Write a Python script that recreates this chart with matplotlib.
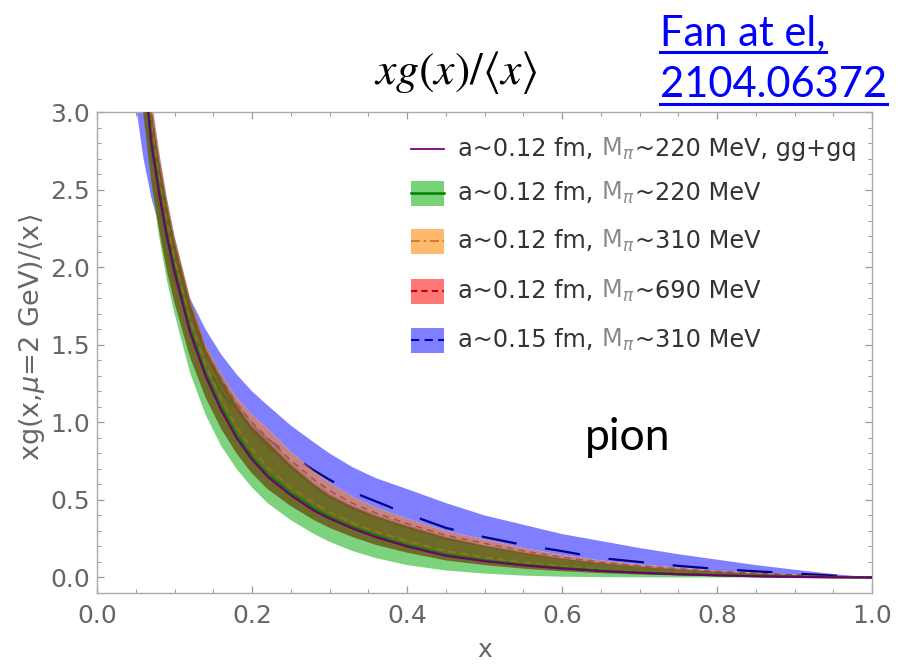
import matplotlib
matplotlib.use("Agg")
import matplotlib.pyplot as plt
from matplotlib.lines import Line2D
from matplotlib.patches import Rectangle
from matplotlib.offsetbox import AnnotationBbox, DrawingArea, HPacker, TextArea
from matplotlib.ticker import MultipleLocator, FormatStrFormatter

plt.rcParams["font.family"] = ["DejaVu Sans"]
plt.rcParams["mathtext.fontset"] = "dejavusans"

# -------------------------
# data
# -------------------------
x = [0.04, 0.05, 0.06, 0.07, 0.08, 0.09, 0.10, 0.12, 0.14, 0.16, 0.18, 0.20,
     0.22, 0.25, 0.28, 0.30, 0.33, 0.36, 0.40, 0.45, 0.50, 0.55, 0.60, 0.65,
     0.70, 0.75, 0.80, 0.85, 0.90, 0.95, 1.00]

# a~0.12 fm, M_pi~220 MeV, gg+gq (purple line)
gg_gq = [5.2, 4.1, 3.3, 2.8, 2.48, 2.2, 1.97, 1.58, 1.30, 1.08, 0.90, 0.76,
         0.65, 0.53, 0.43, 0.38, 0.315, 0.26, 0.20, 0.14, 0.105, 0.078, 0.058, 0.042,
         0.030, 0.021, 0.014, 0.008, 0.004, 0.0015, 0.0]

# a~0.12 fm, M_pi~220 MeV (green)
m220_mid = [5.25, 4.15, 3.34, 2.83, 2.51, 2.22, 1.99, 1.60, 1.32, 1.10, 0.92, 0.775,
            0.665, 0.545, 0.445, 0.39, 0.325, 0.27, 0.208, 0.147, 0.11, 0.082, 0.061, 0.044,
            0.032, 0.022, 0.015, 0.009, 0.0045, 0.0017, 0.0]
m220_lo = [4.9, 3.7, 3.0, 2.55, 2.2, 1.92, 1.7, 1.32, 1.05, 0.85, 0.70, 0.58,
           0.48, 0.37, 0.28, 0.23, 0.17, 0.125, 0.08, 0.045, 0.025, 0.012, 0.005, 0.002,
           0.001, 0.0, 0.0, 0.0, 0.0, 0.0, 0.0]
m220_hi = [6.0, 4.7, 3.8, 3.05, 2.72, 2.44, 2.2, 1.80, 1.50, 1.31, 1.14, 1.00,
           0.90, 0.745, 0.615, 0.545, 0.465, 0.405, 0.34, 0.265, 0.21, 0.165, 0.125, 0.095,
           0.072, 0.053, 0.038, 0.025, 0.015, 0.006, 0.0]

# a~0.12 fm, M_pi~310 MeV (orange)
m310_mid = [5.4, 4.3, 3.45, 2.93, 2.58, 2.29, 2.05, 1.66, 1.37, 1.15, 0.97, 0.83,
            0.71, 0.58, 0.48, 0.42, 0.35, 0.295, 0.235, 0.17, 0.13, 0.097, 0.072, 0.053,
            0.038, 0.027, 0.018, 0.011, 0.006, 0.002, 0.0]
m310_lo = [4.6, 3.65, 2.98, 2.55, 2.24, 1.98, 1.77, 1.42, 1.16, 0.96, 0.80, 0.67,
           0.57, 0.46, 0.37, 0.32, 0.26, 0.21, 0.16, 0.11, 0.08, 0.057, 0.04, 0.028,
           0.019, 0.013, 0.008, 0.005, 0.002, 0.001, 0.0]
m310_hi = [5.9, 4.6, 3.72, 3.0, 2.68, 2.4, 2.16, 1.77, 1.47, 1.28, 1.11, 0.97,
           0.875, 0.725, 0.60, 0.53, 0.455, 0.395, 0.33, 0.258, 0.204, 0.16, 0.121, 0.092,
           0.069, 0.051, 0.036, 0.024, 0.014, 0.006, 0.0]

# a~0.12 fm, M_pi~690 MeV (red)
m690_mid = [5.8, 4.55, 3.68, 3.0, 2.66, 2.38, 2.14, 1.75, 1.46, 1.28, 1.12, 1.0,
            0.90, 0.755, 0.63, 0.56, 0.478, 0.415, 0.348, 0.272, 0.22, 0.171, 0.13, 0.098,
            0.075, 0.055, 0.039, 0.026, 0.015, 0.0065, 0.0]
m690_lo = [5.6, 4.4, 3.55, 2.9, 2.58, 2.3, 2.08, 1.70, 1.42, 1.24, 1.07, 0.94,
           0.84, 0.70, 0.58, 0.51, 0.435, 0.38, 0.315, 0.245, 0.195, 0.152, 0.115, 0.087,
           0.066, 0.048, 0.034, 0.022, 0.013, 0.005, 0.0]
m690_hi = [6.0, 4.7, 3.8, 3.1, 2.75, 2.45, 2.2, 1.80, 1.50, 1.31, 1.16, 1.05,
           0.96, 0.81, 0.685, 0.61, 0.52, 0.45, 0.38, 0.30, 0.245, 0.19, 0.145, 0.11,
           0.085, 0.063, 0.045, 0.03, 0.018, 0.008, 0.0]

# a~0.15 fm, M_pi~310 MeV (blue)
a15_mid = [5.0, 3.9, 3.2, 2.75, 2.4, 2.15, 1.93, 1.6, 1.38, 1.2, 1.07, 0.98,
           0.89, 0.79, 0.69, 0.63, 0.55, 0.49, 0.41, 0.32, 0.26, 0.21, 0.17, 0.125,
           0.10, 0.075, 0.055, 0.04, 0.025, 0.012, 0.0]
a15_lo = [4.0, 3.05, 2.7, 2.45, 2.27, 2.05, 1.88, 1.62, 1.50, 1.31, 1.16, 1.05,
          0.96, 0.81, 0.685, 0.61, 0.52, 0.45, 0.38, 0.30, 0.245, 0.19, 0.145, 0.11,
          0.085, 0.063, 0.045, 0.03, 0.018, 0.008, 0.0]
a15_hi = [5.6, 4.4, 3.5, 2.95, 2.6, 2.3, 2.1, 1.80, 1.60, 1.44, 1.31, 1.20,
          1.11, 0.98, 0.87, 0.80, 0.71, 0.64, 0.57, 0.48, 0.40, 0.34, 0.28, 0.235,
          0.19, 0.15, 0.115, 0.08, 0.05, 0.022, 0.0]

# legend entries
leg_a = ["0.12", "0.12", "0.12", "0.12", "0.15"]
leg_mass = ["220", "220", "310", "690", "310"]
leg_extra = [", gg+gq", "", "", "", ""]

W, H = 906, 664
fig = plt.figure(figsize=(W / 100, H / 100), dpi=100)
ax = fig.add_axes([97 / W, 1 - 593 / H, 775 / W, 481 / H])

# -------------------------
# bands and central lines
# -------------------------
ax.fill_between(x, a15_lo, a15_hi, color=(0, 0, 1), alpha=0.5, lw=0, zorder=1)
ax.plot(x, a15_mid, color="#00008b", lw=1.6, dashes=(16, 13), zorder=1.5)
ax.fill_between(x, m220_lo, m220_hi, color=(92 / 255, 201 / 255, 92 / 255),
                alpha=0.8, lw=0, zorder=2)
# red central line sits under its own band, as in the original
ax.plot(x, m690_mid, color="#b00000", lw=1.2, dashes=(4, 3), zorder=2.4)
ax.fill_between(x, m690_lo, m690_hi, color=(186 / 255, 99 / 255, 99 / 255),
                alpha=0.8, lw=0, zorder=2.5)
ax.fill_between(x, m310_lo, m310_hi, color=(104 / 255, 82 / 255, 19 / 255),
                alpha=0.8, lw=0, zorder=3)
ax.plot(x, m310_mid, color="#8a7a18", lw=1.4, dashes=(4, 2.5), zorder=4)
ax.plot(x, m220_mid, color="#0a7d0a", lw=1.8, zorder=4.5)
ax.plot(x, gg_gq, color="#700070", lw=1.5, zorder=5)

# -------------------------
# axes, Mathematica-like frame
# -------------------------
ax.set_xlim(0, 1)
ax.set_ylim(-0.1, 3.0)
for s in ax.spines.values():
    s.set_color("#aaaaaa")
    s.set_linewidth(1.0)
ax.xaxis.set_major_locator(MultipleLocator(0.2))
ax.xaxis.set_minor_locator(MultipleLocator(0.05))
ax.yaxis.set_major_locator(MultipleLocator(0.5))
ax.yaxis.set_minor_locator(MultipleLocator(0.1))
ax.xaxis.set_major_formatter(FormatStrFormatter("%.1f"))
ax.yaxis.set_major_formatter(FormatStrFormatter("%.1f"))
ax.tick_params(which="both", direction="in", top=True, right=True,
               color="#999999", labelcolor="#666666", labelsize=18)
ax.tick_params(which="major", length=5, width=0.9)
ax.tick_params(which="minor", length=3, width=0.7)
ax.tick_params(axis="x", pad=8)
ax.tick_params(axis="y", pad=5)
ax.set_xlabel("x", fontsize=18, color="#666666")
ax.xaxis.set_label_coords(0.5, -0.094)
ax.set_ylabel(r"xg(x,$\mu$=2 GeV)/$\langle$x$\rangle$", fontsize=19.5, color="#666666")
ax.yaxis.set_label_coords(-0.064, 0.532)

# -------------------------
# legend, built row by row
# -------------------------
swatches = [None, "#78d278", "#ffb96e", "#ff7878", "#8080ff"]
line_cols = ["#800080", "#008000", "#cc7a1a", "#c80000", "#0000c8"]
line_styles = ["-", "-", (0, (5, 2, 1.5, 2)), (0, (3, 2)), (0, (4, 2.5))]
line_widths = [1.3, 1.8, 1.3, 1.5, 1.5]
row_y = [149, 193, 241, 291, 340]
dark, grey = "#333333", "#8a8a8a"
fs = 17.3

for i in range(5):
    da = DrawingArea(24, 18, 0, 0)
    if swatches[i] is not None:
        da.add_artist(Rectangle((0, 0), 24, 18, facecolor=swatches[i], edgecolor="none"))
    da.add_artist(Line2D([0, 24], [9, 9], color=line_cols[i], ls=line_styles[i],
                         lw=line_widths[i]))
    txt = HPacker(children=[
        TextArea(f"a~{leg_a[i]} fm,", textprops=dict(color=dark, fontsize=fs)),
        TextArea(r" M$_\pi$", textprops=dict(color=grey, fontsize=fs)),
        TextArea(f"~{leg_mass[i]} MeV{leg_extra[i]}", textprops=dict(color=dark, fontsize=fs)),
    ], align="baseline", pad=0, sep=0)
    row = HPacker(children=[da, txt], align="center", pad=0, sep=10)
    ab = AnnotationBbox(row, (411 / W, 1 - row_y[i] / H), xycoords="figure fraction",
                        box_alignment=(0, 0.5), frameon=False, pad=0)
    fig.add_artist(ab)

# -------------------------
# slide texts
# -------------------------
fig.text(456 / W, 1 - 72 / H, r"$xg(x)/\langle x\rangle$", fontsize=33,
         math_fontfamily="stix", ha="center", va="center")
fig.text(628 / W, 1 - 438 / H, "pion", fontsize=32, family="Lato",
         ha="center", va="center", color="black")
t1 = fig.text(660 / W, 1 - 45 / H, "Fan at el,", fontsize=30, family="Lato",
              color="#0000ff", va="baseline")
t2 = fig.text(660 / W, 1 - 97 / H, "2104.06372", fontsize=30, family="Lato",
              color="#0000ff", va="baseline")

fig.canvas.draw()
for t, yu in [(t1, 52), (t2, 104)]:
    bb = t.get_window_extent()
    fig.add_artist(Line2D([bb.x0 / fig.bbox.width, bb.x1 / fig.bbox.width],
                          [1 - yu / H, 1 - yu / H], color="#0000ff", lw=2.2,
                          transform=fig.transFigure))

fig.savefig("out.png", dpi=100)
